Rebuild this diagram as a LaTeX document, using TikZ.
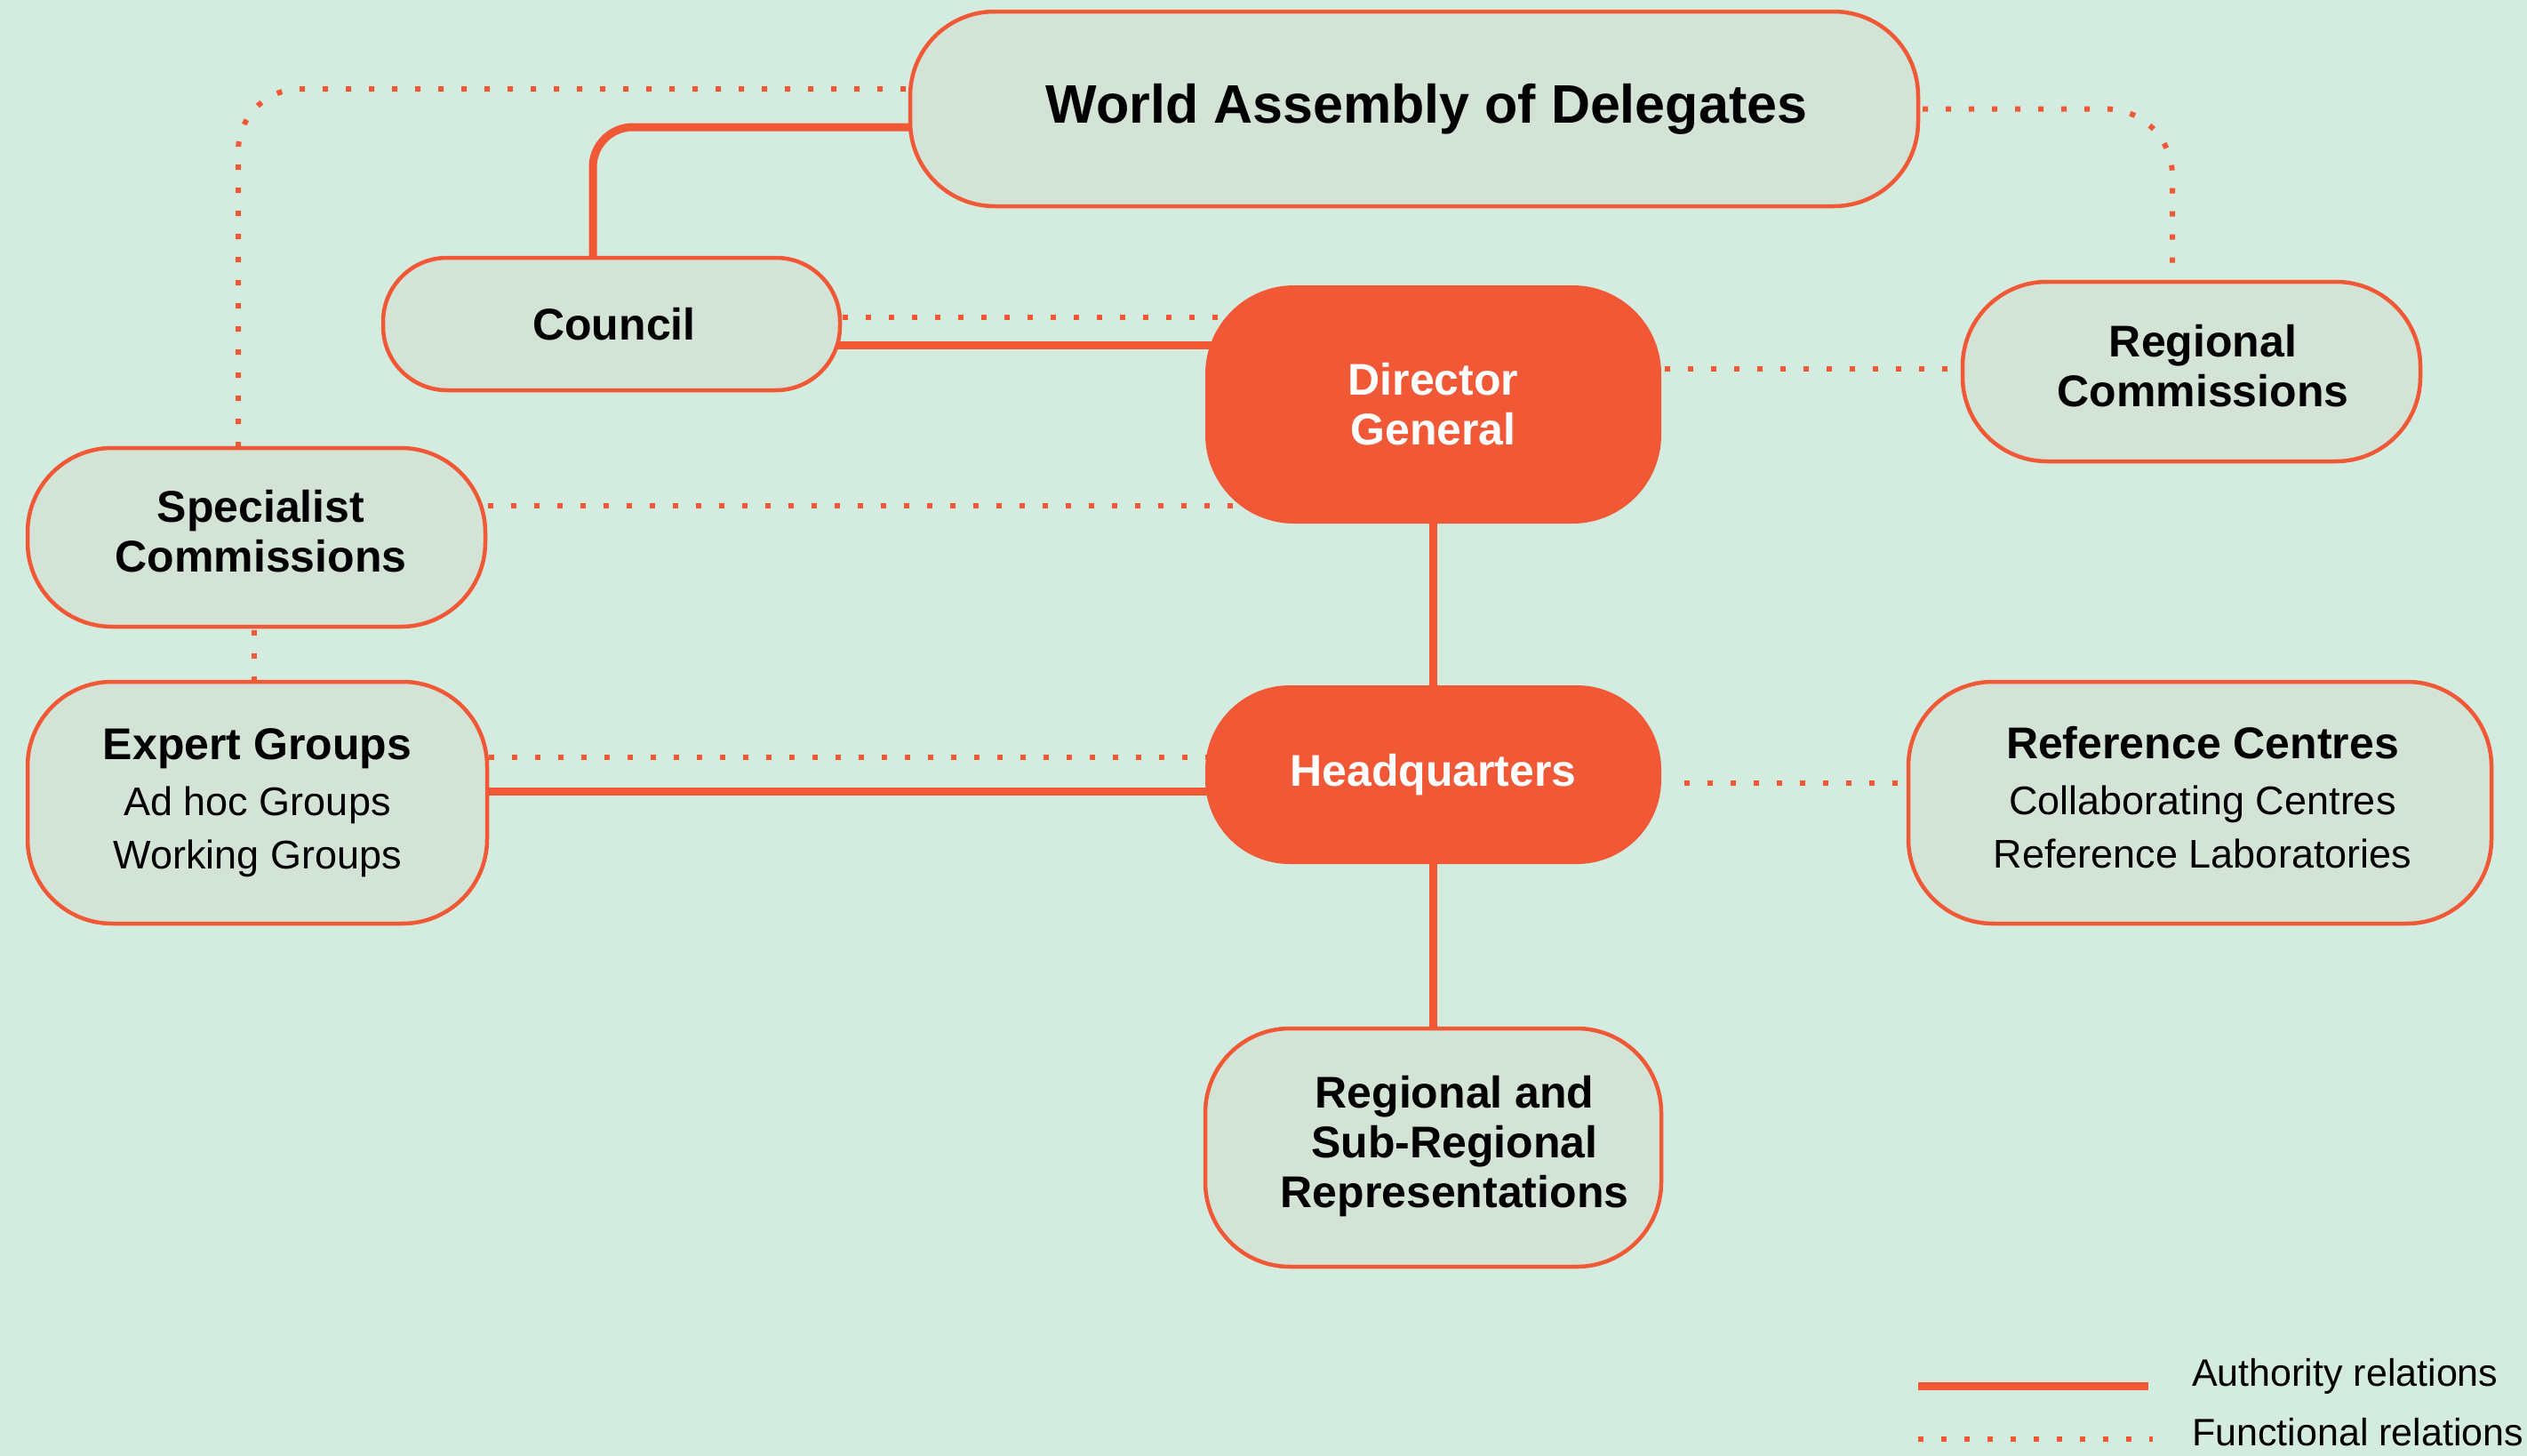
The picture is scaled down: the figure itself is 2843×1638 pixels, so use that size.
\documentclass[tikz,border=0pt]{standalone}
\usepackage{fontspec}
\setmainfont{Liberation Sans}
\usetikzlibrary{calc}
\definecolor{bgc}{RGB}{212,235,223}
\definecolor{boxc}{RGB}{211,228,215}
\definecolor{orc}{RGB}{241,88,54}
\pgfdeclarelayer{bgl}
\pgfdeclarelayer{edges}
\pgfsetlayers{bgl,edges,main}
\newcommand{\ctab}[1]{\begin{tabular}{@{}c@{}}#1\end{tabular}}
\begin{document}
\begin{tikzpicture}[x=1pt,y=-1pt,
  box/.style={draw=orc, line width=4.5pt, fill=boxc, rounded corners=95pt, inner sep=0pt, align=center, text=black, font=\fontsize{50}{56}\selectfont\bfseries},
  obox/.style={fill=orc, draw=none, rounded corners=100pt, inner sep=0pt, align=center, text=white, font=\fontsize{50}{56}\selectfont\bfseries},
  auth/.style={draw=orc, line width=9pt},
  func/.style={draw=orc, line width=6pt, dash pattern=on 6pt off 20pt},
  legtext/.style={anchor=west, inner sep=0pt, text=black, font=\fontsize{43}{50}\selectfont},
]
\useasboundingbox (0,0) rectangle (2843,1638);
\begin{pgfonlayer}{bgl}
\fill[bgc] (0,0) rectangle (2843,1638);
\end{pgfonlayer}

% nodes
\node[box, minimum width=1134pt, minimum height=219pt, font=\fontsize{61}{66}\selectfont\bfseries] (wad) at (1591,122.5) {\hspace*{28pt}\raisebox{-5pt}{World Assembly of Delegates}};
\node[box, minimum width=514pt, minimum height=149pt, rounded corners=72pt] (council) at (688,364.5) {\hspace*{6pt}Council};
\node[obox, minimum width=513pt, minimum height=268pt] (dg) at (1612.5,455) {Director\\General};
\node[box, minimum width=515pt, minimum height=202pt, align=none] (regc) at (2465.5,418) {\hspace*{26pt}\raisebox{-3pt}{\ctab{Regional\\Commissions}}};
\node[box, minimum width=515pt, minimum height=201pt, align=none] (spec) at (288.5,604.5) {\hspace*{10pt}\raisebox{5pt}{\ctab{Specialist\\Commissions}}};
\node[box, minimum width=517pt, minimum height=272pt, font=\fontsize{45}{60}\selectfont] (expert) at (289.5,903) {{\fontsize{50}{60}\selectfont\bfseries Expert Groups}\\[3pt]Ad hoc Groups\\Working Groups};
\node[obox, minimum width=513pt, minimum height=201pt, rounded corners=95pt] (hq) at (1612.5,871.5) {Headquarters};
\node[box, minimum width=656pt, minimum height=272pt, font=\fontsize{45}{60}\selectfont, align=none] (refc) at (2475,903) {\hspace*{6pt}\raisebox{10pt}{\begin{tabular}{@{}c@{}}{\fontsize{50}{60}\selectfont\bfseries Reference Centres}\\[3pt]Collaborating Centres\\Reference Laboratories\end{tabular}}};
\node[box, minimum width=513pt, minimum height=268pt, align=none] (rsr) at (1612.5,1291) {\hspace*{48pt}\ctab{Regional and\\Sub-Regional\\Representations}};

% connectors
\begin{pgfonlayer}{edges}
\draw[auth, rounded corners=45pt] ([yshift=-20.5pt]wad.center) -| ([xshift=-21pt]council.north);
\draw[func, rounded corners=70pt] ([yshift=22.5pt]wad.center) -| ([xshift=-20.5pt]spec.north);
\draw[func, rounded corners=75pt] (wad.center) -| ([xshift=-21.5pt]regc.north);
\draw[func] ([yshift=7.5pt]council.center) -- ([yshift=7.5pt]council.center -| dg.center);
\draw[auth] ([yshift=-23.5pt]council.center) -- ([yshift=-23.5pt]council.center -| dg.center);
\draw[func] ([yshift=40pt]dg.center) -- ([yshift=40pt]dg.center -| regc.center);
\draw[func] ([yshift=35.5pt]spec.center) -- ([yshift=35.5pt]spec.center -| dg.center);
\draw[func] ([xshift=-3pt]spec.center) -- ([xshift=-3pt]spec.center |- expert.center);
\draw[auth] (dg.center) -- (hq.center);
\draw[auth] (hq.center) -- (rsr.center);
\draw[func] ([yshift=51pt]expert.center) -- ([yshift=51pt]expert.center -| hq.center);
\draw[auth] ([yshift=13pt]expert.center) -- ([yshift=13pt]expert.center -| hq.center);
\draw[func] ([xshift=26pt,yshift=-9.5pt]hq.east) -- ([yshift=-9.5pt]hq.east -| refc.center);
\end{pgfonlayer}

% legend
\coordinate (la1) at (2158,1559);
\coordinate (la2) at (2417,1559);
\coordinate (lf1) at (2158,1619);
\coordinate (lf2) at (2422,1619);
\draw[auth] (la1) -- (la2);
\draw[func] (lf1) -- (lf2);
\node[legtext] (lat) at (2466,1548) {Authority relations};
\node[legtext] (lft) at (2466,1611) {Functional relations};
\end{tikzpicture}
\end{document}
